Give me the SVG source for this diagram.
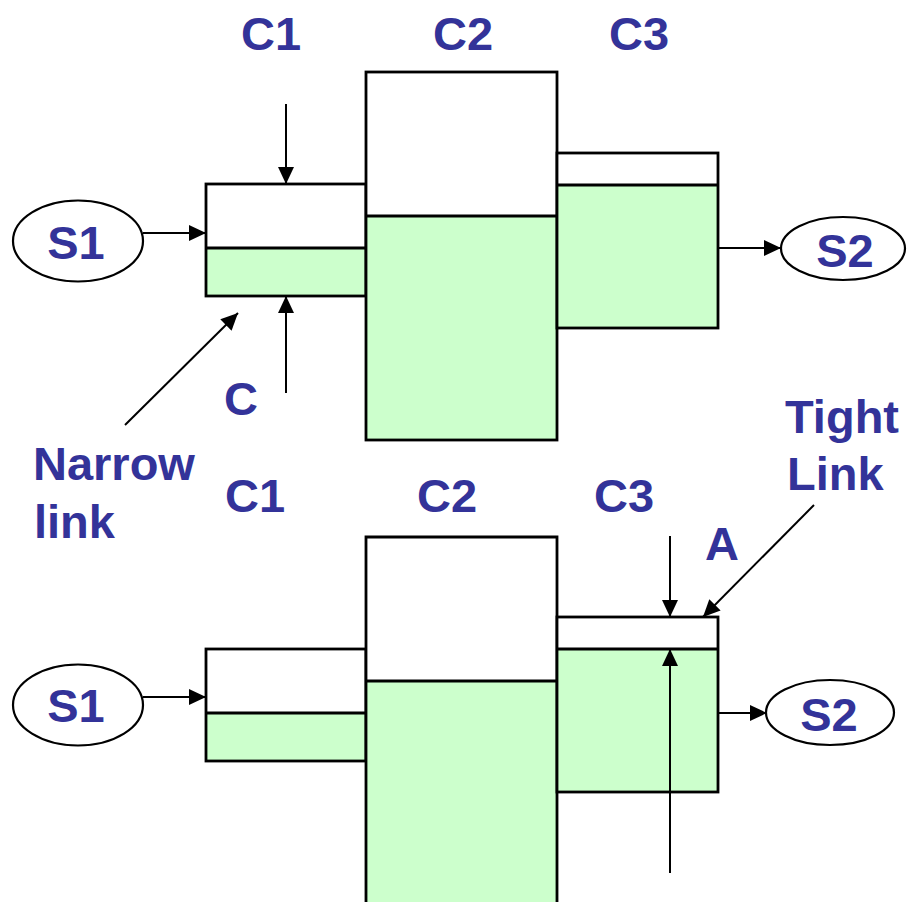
<svg xmlns="http://www.w3.org/2000/svg" width="907" height="902" viewBox="0 0 907 902">
<style>
.lbl{font-family:"Liberation Sans",Arial,sans-serif;font-weight:bold;font-size:47px;fill:#333399}
.box{stroke:#000;stroke-width:2.8;fill:none}
.w{fill:#fff}
.g{fill:#ccffcc}
.ell{fill:#fff;stroke:#000;stroke-width:2.2}
.conn{stroke:#000;stroke-width:2;fill:none;marker-end:url(#ah)}
</style>
<defs>
<marker id="ah" markerUnits="userSpaceOnUse" markerWidth="17" markerHeight="16" refX="17" refY="8" orient="auto">
<path d="M0,0 L17,8 L0,16 Z" fill="#000"/>
</marker>
</defs>
<rect width="907" height="902" fill="#fff"/>

<!-- Top scenario -->
<g id="top-c1">
<rect class="w" x="206" y="184" width="160" height="64"/>
<rect class="g" x="206" y="248" width="160" height="48"/>
<rect class="box" x="206" y="184" width="160" height="112"/>
<line class="box" x1="206" y1="248" x2="366" y2="248"/>
</g>
<g id="top-c2">
<rect class="w" x="366" y="72" width="191" height="144"/>
<rect class="g" x="366" y="216" width="191" height="224"/>
<rect class="box" x="366" y="72" width="191" height="368"/>
<line class="box" x1="366" y1="216" x2="557" y2="216"/>
</g>
<g id="top-c3">
<rect class="w" x="557" y="153" width="161" height="32"/>
<rect class="g" x="557" y="185" width="161" height="143"/>
<rect class="box" x="557" y="153" width="161" height="175"/>
<line class="box" x1="557" y1="185" x2="718" y2="185"/>
</g>
<g id="top-s1">
<ellipse class="ell" cx="78" cy="241" rx="65" ry="40.5"/>
<text class="lbl" x="76" y="259" text-anchor="middle">S1</text>
</g>
<g id="top-s2">
<ellipse class="ell" cx="843" cy="248.5" rx="62" ry="31.5"/>
<text class="lbl" x="845" y="266.5" text-anchor="middle">S2</text>
</g>
<g id="top-labels">
<text class="lbl" x="241" y="50">C1</text>
<text class="lbl" x="433" y="50">C2</text>
<text class="lbl" x="609" y="50">C3</text>
<text class="lbl" x="224" y="415">C</text>
<text class="lbl" x="33" y="480">Narrow</text>
<text class="lbl" x="34" y="538">link</text>
</g>

<!-- Bottom scenario -->
<g id="bot-c1">
<rect class="w" x="206" y="649" width="160" height="64"/>
<rect class="g" x="206" y="713" width="160" height="48"/>
<rect class="box" x="206" y="649" width="160" height="112"/>
<line class="box" x1="206" y1="713" x2="366" y2="713"/>
</g>
<g id="bot-c2">
<rect class="w" x="366" y="537" width="191" height="144"/>
<rect class="g" x="366" y="681" width="191" height="230"/>
<path class="box" d="M366,910 V537 H557 V910"/>
<line class="box" x1="366" y1="681" x2="557" y2="681"/>
</g>
<g id="bot-c3">
<rect class="w" x="557" y="617" width="161" height="32"/>
<rect class="g" x="557" y="649" width="161" height="143"/>
<rect class="box" x="557" y="617" width="161" height="175"/>
<line class="box" x1="557" y1="649" x2="718" y2="649"/>
</g>
<g id="bot-s1">
<ellipse class="ell" cx="78" cy="705" rx="65" ry="40.5"/>
<text class="lbl" x="76" y="722" text-anchor="middle">S1</text>
</g>
<g id="bot-s2">
<ellipse class="ell" cx="830" cy="712.5" rx="64" ry="32.5"/>
<text class="lbl" x="829" y="731" text-anchor="middle">S2</text>
</g>
<g id="bot-labels">
<text class="lbl" x="225" y="512">C1</text>
<text class="lbl" x="417" y="512">C2</text>
<text class="lbl" x="594" y="512">C3</text>
<text class="lbl" x="705" y="560">A</text>
<text class="lbl" x="785" y="433">Tight</text>
<text class="lbl" x="787" y="490">Link</text>
</g>

<g id="connectors">
<line class="conn" x1="143" y1="233" x2="206" y2="233"/>
<line class="conn" x1="286" y1="104" x2="286" y2="184"/>
<line class="conn" x1="286" y1="393" x2="286" y2="296"/>
<line class="conn" x1="125" y1="425" x2="238" y2="313"/>
<line class="conn" x1="718" y1="248" x2="781" y2="248"/>
<line class="conn" x1="143" y1="697" x2="206" y2="697"/>
<line class="conn" x1="718" y1="713" x2="767" y2="713"/>
<line class="conn" x1="670" y1="536" x2="670" y2="617"/>
<line class="conn" x1="670" y1="873" x2="670" y2="649"/>
<line class="conn" x1="814" y1="505" x2="703" y2="617"/>
</g>
</svg>
